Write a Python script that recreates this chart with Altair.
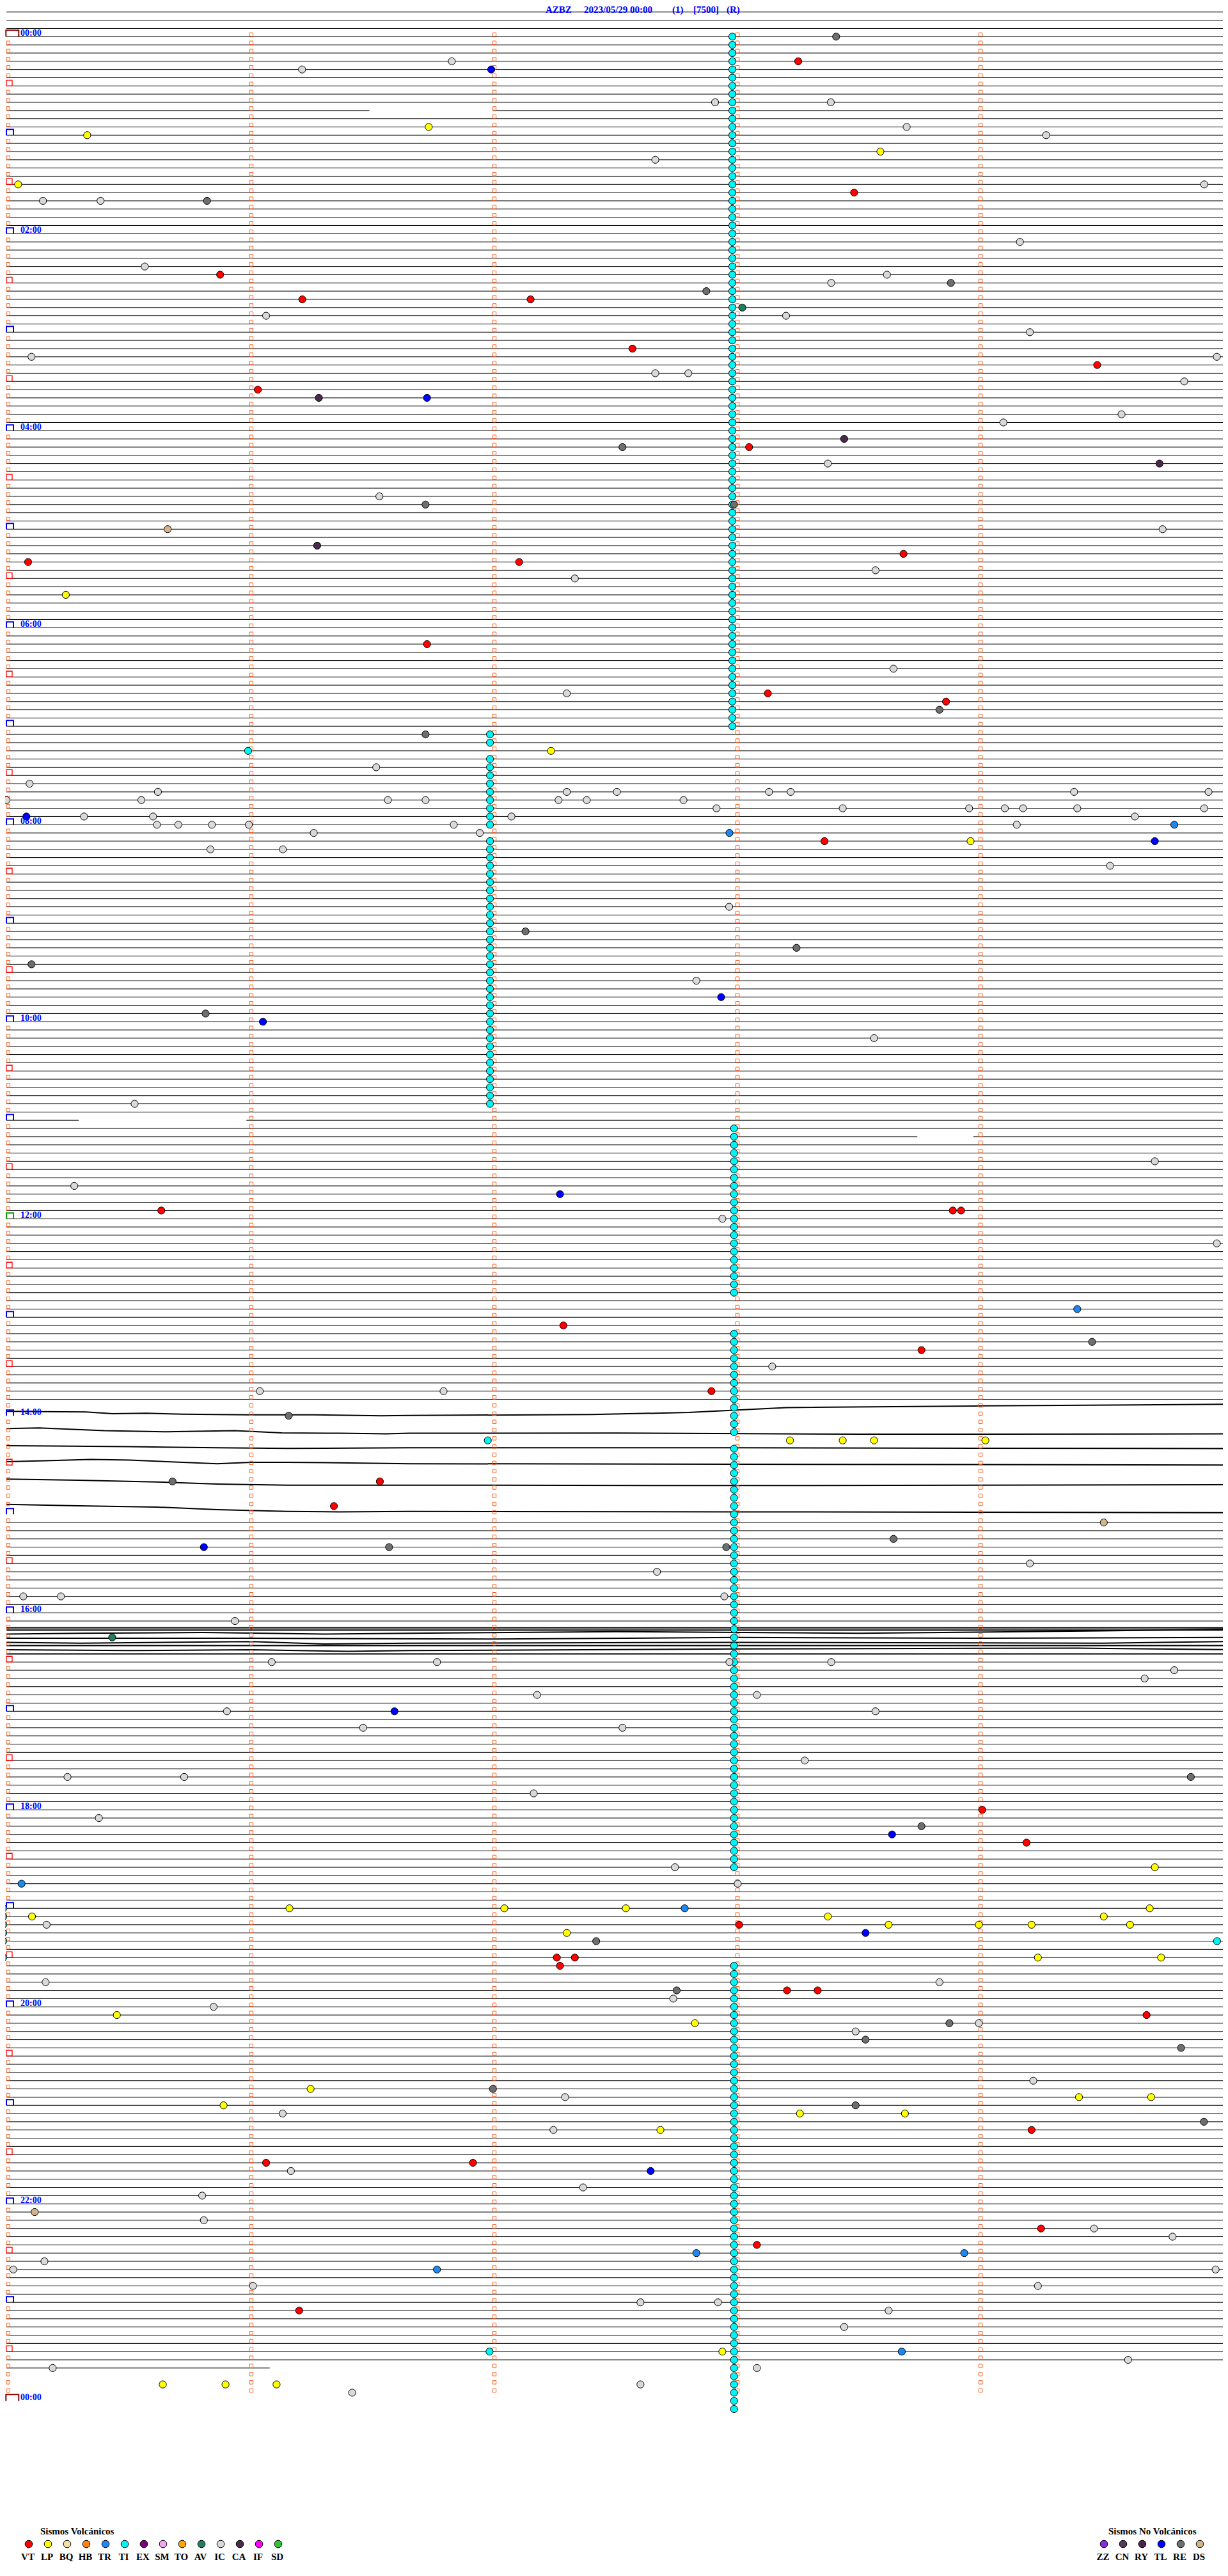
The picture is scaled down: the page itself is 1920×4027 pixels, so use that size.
import altair as alt
import pandas as pd

# ---------------- geometry (page px -> data units) ----------------
PX0, PXM = 12.8, 380.07      # page x of minute 0, px per minute
PY0, PYR = 57.3, 12.833      # page y of row 0, px per row
W, H = 1904, 4011

def mx(px):
    return (px - PX0) / PXM

def ry(py):
    return (py - PY0) / PYR

XS = alt.Scale(domain=[mx(8), mx(8 + W)], nice=False, zero=False)
YS = alt.Scale(domain=[ry(8), ry(8 + H)], nice=False, zero=False, reverse=True)

# ---------------- text ----------------
title_parts = ["AZBZ", "2023/05/29 00:00", "(1)", "[7500]", "(R)"]
title_px = [853, 913, 1051, 1084, 1136]

hour_labels = ["00:00", "02:00", "04:00", "06:00", "08:00", "10:00", "12:00",
               "14:00", "16:00", "18:00", "20:00", "22:00", "00:00"]
hour_label_rows = [0, 24, 48, 72, 96, 120, 144, 168, 192, 216, 240, 264, 288]

# ---------------- event types ----------------
volc_codes = ["VT", "LP", "BQ", "HB", "TR", "TI", "EX", "SM", "TO", "AV", "IC", "CA", "IF", "SD"]
volc_colors = ["#ff0000", "#ffff00", "#f2e2a6", "#ff8015", "#1e88f0", "#00f4f4", "#800080",
               "#eeaaee", "#ffa500", "#1f7f5f", "#d9d9d9", "#4a2a4a", "#ff00ff", "#33c433"]
nv_codes = ["ZZ", "CN", "RY", "TL", "RE", "DS"]
nv_colors = ["#8a2be2", "#553a5a", "#4a2448", "#0000ff", "#6e6e6e", "#d2b48c"]

# ---------------- events: (row of 5 min, minute within row) ----------------
ti_col_a_rows = list(range(0, 85))
ti_col_a_min = 2.979
ti_col_b_rows = [85, 86] + list(range(88, 97)) + list(range(98, 131))
ti_col_b_min = 1.982
ti_col_c_rows = list(range(133, 154)) + list(range(158, 171)) + list(range(172, 224)) + list(range(235, 290))
ti_col_c_min = 2.986
ti_single = [(87, 0.987), (171, 1.973), (232, 4.973), (228, -0.0205), (229, -0.0205),
             (230, -0.0205), (231, -0.0205), (232, -0.0205), (234, -0.0205), (282, 1.98)]

vt_events = [(3, 3.25), (19, 3.48), (29, 0.872), (32, 1.21), (32, 2.149), (38, 2.568), (40, 4.48),
             (43, 1.027), (50, 3.048), (63, 3.683), (64, 0.082), (64, 2.102), (74, 1.723), (80, 3.125),
             (81, 3.858), (98, 3.358), (143, 0.63), (143, 3.886), (143, 3.92), (157, 2.284),
             (160, 3.757), (165, 2.893), (176, 1.529), (179, 1.34), (216, 4.007), (220, 4.189),
             (230, 3.007), (234, 2.257), (234, 2.331), (235, 2.27), (238, 3.204), (238, 3.33),
             (241, 4.683), (255, 4.21), (259, 1.061), (259, 1.912), (267, 4.249), (269, 3.08),
             (277, 1.197)]
lp_events = [(11, 1.73), (12, 0.325), (14, 3.588), (18, 0.041), (68, 0.237), (87, 2.233), (98, 3.959),
             (171, 3.216), (171, 3.433), (171, 3.562), (171, 4.02), (223, 4.717), (228, 1.157),
             (228, 2.041), (228, 2.541), (228, 4.696), (229, 0.098), (229, 3.372), (229, 4.507),
             (230, 3.622), (230, 3.993), (230, 4.21), (230, 4.615), (231, 2.298), (234, 4.236),
             (234, 4.743), (241, 0.447), (242, 2.825), (250, 1.244), (251, 4.405), (251, 4.702),
             (252, 0.886), (253, 3.257), (253, 3.689), (255, 2.683), (282, 2.938), (286, 0.636),
             (286, 0.894), (286, 1.104)]
tr_events = [(97, 2.967), (96, 4.797), (155, 4.398), (225, 0.055), (228, 2.783), (270, 2.831),
             (270, 3.933), (272, 1.764), (282, 3.676)]
av_events = [(33, 3.02), (195, 0.428)]
ca_events = [(44, 1.278), (49, 3.439), (52, 4.736), (62, 1.271)]
ic_events = [(3, 1.825), (4, 1.209), (8, 2.908), (8, 3.384), (11, 3.696), (12, 4.27), (15, 2.662),
             (18, 4.92), (20, 0.143), (20, 0.38), (25, 4.162), (28, 0.562), (29, 3.615), (30, 3.386),
             (34, 1.061), (34, 3.2), (36, 4.203), (39, 0.096), (39, 4.972), (41, 2.662), (41, 2.798),
             (42, 4.838), (46, 4.58), (47, 4.094), (52, 3.372), (56, 1.527), (60, 4.749), (65, 3.568),
             (66, 2.331), (77, 3.642), (80, 2.298), (89, 1.514), (91, 0.088), (92, 0.616), (93, 0.548),
             (93, -0.007), (93, 1.562), (93, 1.717), (92, 2.298), (93, 2.264), (93, 2.38), (92, 2.504),
             (93, 2.778), (94, 2.914), (92, 3.13), (92, 3.219), (94, 3.433), (94, 3.953), (94, 4.1),
             (94, 4.175), (92, 4.385), (94, 4.398), (92, 4.938), (94, 4.92), (95, 0.312), (95, 0.596),
             (96, 0.612), (96, 0.7), (96, 0.838), (96, 0.99), (95, 2.07), (96, 1.833), (97, 1.94),
             (97, 1.257), (99, 0.832), (99, 1.13), (96, 4.149), (95, 4.635), (101, 4.533),
             (106, 2.966), (115, 2.831), (122, 3.562), (130, 0.52), (137, 4.717), (140, 0.272),
             (144, 2.938), (147, 4.972), (162, 3.143), (165, 1.035), (165, 1.791), (187, 2.669),
             (186, 4.203), (190, 2.946), (190, 0.062), (190, 0.217), (193, 0.933), (198, 1.084),
             (198, 2.967), (198, 1.764), (198, 3.386), (199, 4.797), (200, 4.675), (202, 3.08),
             (202, 2.176), (204, 0.9), (204, 3.568), (206, 1.46), (206, 2.527), (210, 3.277),
             (212, 0.244), (212, 0.724), (214, 2.162), (217, 0.373), (223, 2.743), (225, 3.001),
             (230, 0.158), (237, 0.154), (240, 0.845), (239, 2.736), (237, 3.831), (243, 3.486),
             (242, 3.993), (249, 4.217), (251, 2.291), (253, 1.129), (255, 2.243), (260, 1.163),
             (262, 2.365), (263, 0.798), (266, 0.805), (267, 4.467), (268, 4.79), (272, 0.021),
             (271, 0.149), (272, 4.967), (274, 1.007), (274, 4.236), (276, 2.601), (276, 2.92),
             (277, 3.622), (279, 3.439), (283, 4.607), (284, 0.183), (284, 3.08), (287, 1.415),
             (286, 2.601)]
tl_events = [(4, 1.987), (44, 1.723), (95, 0.075), (98, 4.717), (117, 2.933), (120, 1.048),
             (141, 2.27), (184, 0.805), (204, 1.589), (219, 3.636), (231, 3.527), (260, 2.643)]
re_events = [(0, 3.406), (20, 0.818), (30, 3.878), (31, 2.872), (50, 2.527), (57, 1.717), (57, 2.986),
             (82, 3.831), (85, 1.717), (109, 2.128), (111, 3.243), (113, 0.096), (119, 0.812),
             (159, 4.459), (168, 1.154), (176, 0.676), (184, 1.567), (184, 2.954), (183, 3.642),
             (212, 4.865), (218, 3.757), (232, 2.419), (238, 2.75), (244, 3.527), (242, 3.872),
             (245, 4.825), (250, 1.994), (252, 3.486), (254, 4.919)]
ds_events = [(60, 0.656), (181, 4.507), (265, 0.109)]

# ---------------- seismogram traces ----------------
trace_rows_first, trace_rows_last = -4, 284
trace_start, trace_end = -0.0074, 5.03
trace_gaps = {9: (1.486, 1.993), 132: (0.29, 0.98), 134: (3.74, 3.97)}
trace_short_end = {284: 1.076}
noisy_rows = list(range(167, 181)) + [194, 195, 196, 197]

wiggly_1400 = [
    [(-0.007, 167.45), (0.138, 167.49), (0.32, 167.54), (0.43, 167.74), (0.568, 167.69), (0.718, 167.8),
     (0.987, 167.88), (1.255, 167.88), (1.534, 168.0), (1.65, 167.96), (2.4, 167.85), (2.8, 167.6),
     (3.2, 167.0), (4.0, 166.8), (5.03, 166.6)],
    [(-0.007, 169.56), (0.127, 169.48), (0.395, 169.82), (0.653, 169.95), (0.932, 169.82), (1.126, 170.08),
     (1.362, 170.13), (1.556, 170.21), (1.65, 170.13), (2.5, 170.1), (3.5, 170.25), (5.03, 170.2)],
    [(-0.007, 171.64), (0.18, 171.69), (0.5, 171.77), (0.86, 171.9), (1.15, 171.98), (1.65, 171.9),
     (3.0, 171.9), (5.03, 172.0)],
    [(-0.007, 173.59), (0.13, 173.5), (0.34, 173.32), (0.5, 173.4), (0.86, 173.84), (1.0, 173.66),
     (1.15, 173.66), (1.65, 173.84), (3.0, 173.9), (5.03, 174.0)],
    [(-0.007, 175.72), (0.29, 175.85), (0.61, 176.06), (0.86, 176.32), (1.15, 176.45), (1.65, 176.45),
     (3.0, 176.5), (5.03, 176.4)],
    [(-0.007, 178.79), (0.29, 178.97), (0.61, 179.12), (0.86, 179.44), (1.15, 179.65), (1.36, 179.7),
     (1.65, 179.65), (3.0, 179.7), (5.03, 179.8)],
]
wiggly_1600 = [
    [(-0.007, 193.83), (5.03, 193.83)],
    [(-0.007, 194.1), (5.03, 194.1)],
    [(-0.007, 194.6), (0.3, 194.5), (0.8, 194.4), (1.3, 194.6), (1.65, 194.5), (2.5, 194.3), (3.5, 194.5), (4.5, 194.2), (5.03, 194.0)],
    [(-0.007, 195.1), (1.0, 195.1), (2.0, 195.2), (3.0, 195.0), (4.0, 195.1), (5.03, 195.0)],
    [(-0.007, 195.6), (0.3, 195.7), (1.0, 195.5), (1.3, 195.8), (1.65, 195.7), (3.0, 195.6), (4.5, 195.7), (5.03, 195.5)],
    [(-0.007, 196.0), (5.03, 196.0)],
    [(-0.007, 196.5), (0.5, 196.6), (1.0, 196.5), (1.4, 196.7), (1.65, 196.6), (3.0, 196.4), (4.4, 196.3), (5.03, 196.5)],
    [(-0.007, 197.0), (5.03, 197.0)],
]

# ---------------- build tables ----------------
segs = []
for r in range(trace_rows_first, trace_rows_last + 1):
    if r in noisy_rows:
        continue
    a = mx(0) if r == -4 else trace_start
    b = trace_short_end.get(r, trace_end)
    if r in trace_gaps:
        g0, g1 = trace_gaps[r]
        segs.append({"m": a, "m2": g0, "r": r})
        segs.append({"m": g1, "m2": b, "r": r})
    else:
        segs.append({"m": a, "m2": b, "r": r})
flat_df = pd.DataFrame(segs)

wl = []
for k, line in enumerate(wiggly_1400 + wiggly_1600):
    for i, (m, r) in enumerate(line):
        wl.append({"seg": k, "i": i, "m": m, "r": r})
wig_df = pd.DataFrame(wl)

# minute markers
sq = []
for r in range(0, 288):
    for mi in range(0, 5):
        if mi == 0 and (r % 6 == 0):
            continue
        sq.append({"m": mi, "r": r})
sq_df = pd.DataFrame(sq)
hour_df = pd.DataFrame({"m": 0, "r": [r for r in range(12, 288, 12)]})
hour_df["c"] = ["#00a000" if r == 144 else "#0000ff" for r in hour_df["r"]]
half_df = pd.DataFrame({"m": 0, "r": [r for r in range(6, 288, 12)]})
day_df = pd.DataFrame({"m": 0, "r": [0, 288]})

ev = []
for r in ti_col_a_rows:
    ev.append(("TI", r, ti_col_a_min))
for r in ti_col_b_rows:
    ev.append(("TI", r, ti_col_b_min))
for r in ti_col_c_rows:
    ev.append(("TI", r, ti_col_c_min))
for r, m in ti_single:
    ev.append(("TI", r, m))
for code, lst in [("IC", ic_events), ("VT", vt_events), ("LP", lp_events), ("TR", tr_events),
                  ("AV", av_events), ("CA", ca_events), ("TL", tl_events), ("RE", re_events),
                  ("DS", ds_events)]:
    for r, m in lst:
        ev.append((code, r, m))
ev_df = pd.DataFrame(ev, columns=["t", "r", "m"])

all_codes = volc_codes + nv_codes
all_colors = volc_colors + nv_colors
CS = alt.Scale(domain=all_codes, range=all_colors)

X = alt.X("m:Q", scale=XS, axis=None)
Y = alt.Y("r:Q", scale=YS, axis=None)

# ---------------- layers ----------------
flat = alt.Chart(flat_df).mark_rule(color="black", strokeWidth=1).encode(
    x=X, x2="m2:Q", y=Y)
wig = alt.Chart(wig_df).mark_line(color="black", strokeWidth=2, interpolate="linear").encode(
    x=X, y=Y, detail="seg:N", order="i:O")

squares = alt.Chart(sq_df).mark_point(shape="square", size=30, filled=False, color="#ff5a1a",
                                      strokeWidth=1, yOffset=-3.3, opacity=1).encode(x=X, y=Y)
hours = alt.Chart(hour_df).mark_point(shape="M-1,1L-1,-0.64L1,-0.64L1,1", size=121, filled=False,
                                      strokeWidth=2, xOffset=2.7, yOffset=-5.5,
                                      opacity=1).encode(x=X, y=Y, stroke=alt.Stroke("c:N", scale=None))
halves = alt.Chart(half_df).mark_point(shape="square", size=81, filled=False, color="#ff0000",
                                       strokeWidth=1.3, xOffset=1.7, yOffset=-4.5,
                                       opacity=1).encode(x=X, y=Y)
days = alt.Chart(day_df).mark_point(shape="M-1,0.5L-1,-0.5L1,-0.5L1,0.5", size=400, filled=False,
                                    color="#8b0000", strokeWidth=2, xOffset=6.5, yOffset=-5,
                                    opacity=1).encode(x=X, y=Y)

events = alt.Chart(ev_df).mark_point(shape="circle", size=125, filled=True, stroke="black",
                                     strokeWidth=1, opacity=1).encode(
    x=X, y=Y, fill=alt.Fill("t:N", scale=CS, legend=None))

hl_df = pd.DataFrame({"s": hour_labels, "r": hour_label_rows, "m": mx(32)})
hlabels = alt.Chart(hl_df).mark_text(align="left", baseline="alphabetic", dy=-1.5, font="Liberation Serif",
                                     fontWeight="bold", fontSize=14, color="#0000ff").encode(
    x=X, y=Y, text="s:N")

tt_df = pd.DataFrame({"s": title_parts, "m": [mx(p) for p in title_px], "r": ry(19.5)})
title = alt.Chart(tt_df).mark_text(align="left", baseline="alphabetic", font="Liberation Serif",
                                   fontWeight="bold", fontSize=15, color="#0000ff").encode(
    x=X, y=Y, text="s:N")

# legend
leg_rows = []
for i, c in enumerate(volc_codes):
    leg_rows.append({"t": c, "m": mx(45 + 30 * i)})
for i, c in enumerate(nv_codes):
    leg_rows.append({"t": c, "m": mx(1726 + 30 * i)})
leg_df = pd.DataFrame(leg_rows)
leg_df["r"] = ry(3977)
leg_df["r2"] = ry(4002)
leg_pts = alt.Chart(leg_df).mark_point(shape="circle", size=135, filled=True, stroke="black",
                                       strokeWidth=1, opacity=1).encode(
    x=X, y=Y, fill=alt.Fill("t:N", scale=CS, legend=None))
leg_txt = alt.Chart(leg_df).mark_text(align="center", baseline="alphabetic", dx=-1.5, font="Liberation Serif",
                                      fontWeight="bold", fontSize=15, color="black").encode(
    x=X, y=alt.Y("r2:Q", scale=YS, axis=None), text="t:N")
head_df = pd.DataFrame({"s": ["Sismos Volcánicos", "Sismos No Volcánicos"],
                        "m": [mx(63), mx(1733)], "r": ry(3962)})
leg_head = alt.Chart(head_df).mark_text(align="left", baseline="alphabetic", font="Liberation Serif",
                                        fontWeight="bold", fontSize=15, color="black").encode(
    x=X, y=Y, text="s:N")

chart = alt.layer(flat, wig, squares, hours, halves, days, events, hlabels, title,
                  leg_pts, leg_txt, leg_head).properties(
    width=W, height=H, padding=0, autosize=alt.AutoSizeParams(type="none"),
    background="white"
).configure_view(strokeWidth=0)

chart.save("out.html", embed_options={"renderer": "svg", "actions": False})
